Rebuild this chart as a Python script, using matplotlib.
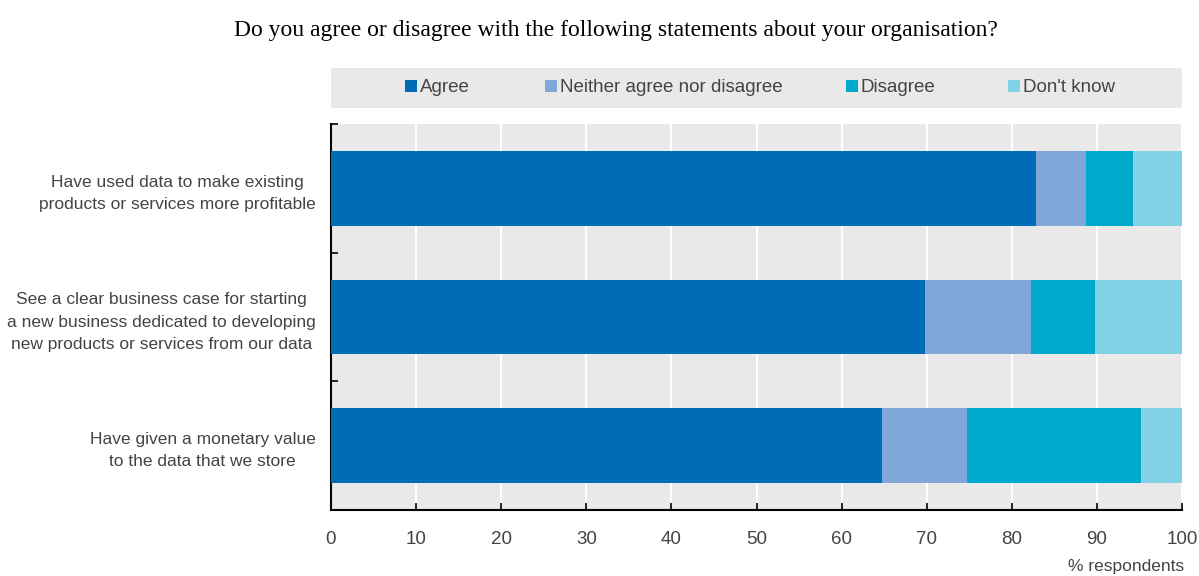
import matplotlib
matplotlib.use("Agg")
import matplotlib.pyplot as plt
from matplotlib import font_manager
from matplotlib.patches import Rectangle, Patch

names = {f.name for f in font_manager.fontManager.ttflist}
sans = 'Liberation Sans Narrow' if 'Liberation Sans Narrow' in names else 'Liberation Sans'
serif = 'Liberation Serif'
plt.rcParams['font.family'] = [sans, 'DejaVu Sans']

categories = [
    "Have used data to make existing\nproducts or services more profitable",
    "See a clear business case for starting\na new business dedicated to developing\nnew products or services from our data",
    "Have given a monetary value\nto the data that we store",
]
series_names = ["Agree", "Neither agree nor disagree", "Disagree", "Don't know"]
agree = [82.9, 69.8, 64.8]
neither = [5.8, 12.5, 9.9]
disagree = [5.5, 7.5, 20.5]
dont_know = [5.8, 10.2, 4.8]
colors = ["#006BB6", "#7FA8D9", "#00AACC", "#82D1E5"]
xticks = [0, 10, 20, 30, 40, 50, 60, 70, 80, 90, 100]
legend_x = [405, 545, 846, 1008]  # pixel left of each legend entry

W, H = 1199, 576
TXT = "#444444"
fig = plt.figure(figsize=(W / 100, H / 100), dpi=100)
ax = fig.add_axes([331 / W, (H - 510) / H, (1182 - 331) / W, (510 - 124) / H])
ax.set_facecolor("#E9E9E9")

ypos = list(range(len(categories)))
left = [0.0] * len(categories)
for vals, col, name in zip([agree, neither, disagree, dont_know], colors, series_names):
    ax.barh(ypos, vals, left=left, height=0.58, color=col, label=name, zorder=3)
    left = [l + v for l, v in zip(left, vals)]

ax.set_xlim(0, 100)
ax.set_ylim(2.5, -0.5)
ax.set_xticks(xticks)
ax.set_xticklabels([str(t) for t in xticks], fontsize=13.5, color=TXT)
ax.grid(axis="x", color="white", linewidth=1.5, zorder=1)
ax.set_axisbelow(True)
ax.set_yticks(ypos)
ax.set_yticklabels(categories, fontsize=12.5, color=TXT, multialignment="center",
                   linespacing=1.6)
ax.set_yticks([-0.5, 0.5, 1.5], minor=True)
ax.tick_params(axis="y", which="major", length=0, pad=11)
ax.tick_params(axis="y", which="minor", length=5, direction="in", width=1.2)
ax.tick_params(axis="x", length=5, direction="in", width=1.2, pad=15)
for s in ["top", "right"]:
    ax.spines[s].set_visible(False)
for s in ["left", "bottom"]:
    ax.spines[s].set_color("black")
    ax.spines[s].set_linewidth(1.5)

# legend band
fig.patches.append(Rectangle((331 / W, (H - 108) / H), (1182 - 331) / W, 40 / H,
                             transform=fig.transFigure, facecolor="#E9E9E9", edgecolor="none"))
for name, col, lx in zip(series_names, colors, legend_x):
    fig.legend([Patch(facecolor=col, edgecolor="none")], [name], loc="center left",
               bbox_to_anchor=(lx / W, (H - 88) / H), frameon=False, fontsize=13.5,
               handlelength=0.65, handleheight=0.65, handletextpad=0.15,
               borderpad=0, borderaxespad=0, labelcolor=TXT)

fig.text(616 / W, (H - 36) / H,
         "Do you agree or disagree with the following statements about your organisation?",
         ha="center", va="baseline", fontsize=17, family=[serif, 'DejaVu Serif'])
fig.text(1184 / W, (H - 566) / H, "% respondents", ha="right", va="center",
         fontsize=12.5, color=TXT)

fig.savefig("out.png", dpi=100)
